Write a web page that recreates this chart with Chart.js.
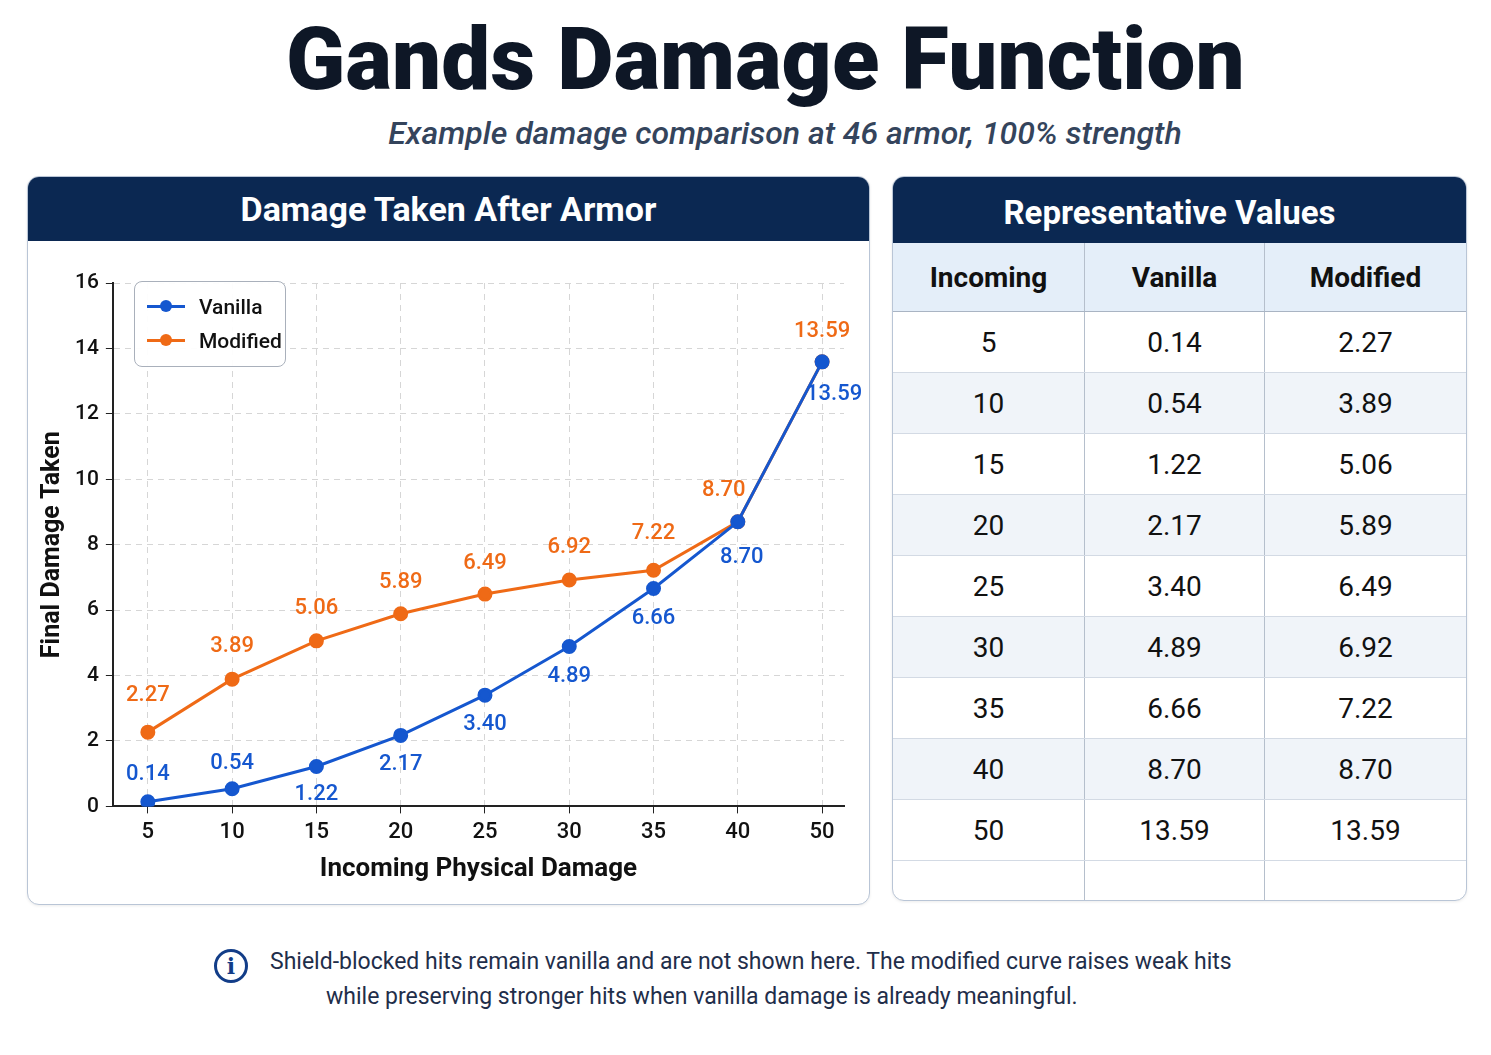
<!DOCTYPE html>
<html>
<head>
<meta charset="utf-8">
<script src="https://cdn.jsdelivr.net/npm/chart.js@4.4.1/dist/chart.umd.min.js"></script>
<style>
  html, body { margin: 0; padding: 0; background: #fff; }
  body { width: 1491px; height: 1055px; position: relative; font-family: Roboto, 'Noto Sans', sans-serif; overflow: hidden; }
  h1 { position: absolute; left: 20px; width: 1491px; top: 8px; margin: 0; text-align: center; font-size: 87px; font-weight: 900; color: #0e1726; letter-spacing: 0.2px; }
  .sub { position: absolute; left: 78px; width: 1414px; top: 114px; text-align: center; font-size: 32px; font-style: italic; font-weight: 500; color: #34445c; }
  .card { position: absolute; background: #fff; border: 1.5px solid #b9c5d6; border-radius: 12px; overflow: hidden; box-shadow: 0 1px 3px rgba(0,0,0,0.08); }
  .card .head { background: #0b2852; color: #fff; font-weight: 700; text-align: center; }
  #left { left: 27px; top: 176px; width: 841px; height: 727px; }
  #left .head { height: 64px; line-height: 64px; font-size: 34px; }
  #right { left: 892px; top: 176px; width: 573px; height: 723px; }
  #right .head { height: 66px; line-height: 72px; font-size: 33px; padding-right: 20px; }
  .wrap { position: absolute; left: 2px; top: 66px; width: 836px; height: 656px; }
  .legend { position: absolute; left: 104px; top: 38px; width: 150px; height: 84px; border: 1.5px solid #a9b0bb; border-radius: 8px; background: rgba(255,255,255,0.95); font-size: 21px; font-weight: 500; color: #111; }
  .legend div { position: absolute; left: 12px; height: 26px; line-height: 26px; }
  .legend i { display: inline-block; position: relative; width: 38px; height: 3px; vertical-align: middle; margin-right: 14px; top: -2px; }
  .legend i:after { content: ''; position: absolute; left: 13px; top: -5px; width: 12px; height: 12px; border-radius: 50%; background: inherit; }
  table { border-collapse: collapse; width: 100%; font-size: 28px; color: #111; }
  th, td { padding: 0; }
  th { background: #e4eef9; height: 68px; font-weight: 700; border-right: 1px solid #b5bfcc; border-bottom: 1.5px solid #a9b4c3; }
  td { height: 60px; text-align: center; border-right: 1px solid #b5bfcc; border-bottom: 1px solid #d3dae4; }
  th:last-child, td:last-child { border-right: none; }
  tr.alt td { background: #f0f4f9; }
  tr.pad td { height: 60px; border-bottom: none; }
  .note { position: absolute; left: 214px; top: 944px; width: 1060px; font-size: 23px; color: #1f2e4a; line-height: 35px; }
  .note .ic { position: absolute; left: 0; top: 5px; width: 34px; height: 34px; box-sizing: border-box; border: 3px solid #123d88; border-radius: 50%; color: #123d88; font-family: 'DejaVu Serif', serif; font-weight: 700; font-size: 22px; line-height: 29px; text-align: center; }
  .note .l1 { position: absolute; left: 56px; top: 0; white-space: nowrap; }
  .note .l2 { position: absolute; left: 112px; top: 35px; white-space: nowrap; }
</style>
</head>
<body>
<h1>Gands Damage Function</h1>
<div class="sub">Example damage comparison at 46 armor, 100% strength</div>

<div class="card" id="left">
  <div class="head">Damage Taken After Armor</div>
  <div class="wrap">
    <canvas id="chart" width="836" height="656"></canvas>
    <div class="legend">
      <div style="top:12px"><i style="background:#1557cf"></i>Vanilla</div>
      <div style="top:46px"><i style="background:#ef6a16"></i>Modified</div>
    </div>
  </div>
</div>

<div class="card" id="right">
  <div class="head">Representative Values</div>
  <table id="tbl"></table>
</div>

<div class="note">
  <div class="ic">i</div>
  <div class="l1">Shield-blocked hits remain vanilla and are not shown here. The modified curve raises weak hits</div>
  <div class="l2">while preserving stronger hits when vanilla damage is already meaningful.</div>
</div>

<script>
const incoming = ['5', '10', '15', '20', '25', '30', '35', '40', '50'];
const vanilla = [0.14, 0.54, 1.22, 2.17, 3.40, 4.89, 6.66, 8.70, 13.59];
const modified = [2.27, 3.89, 5.06, 5.89, 6.49, 6.92, 7.22, 8.70, 13.59];
const yTicks = [0, 2, 4, 6, 8, 10, 12, 14, 16];

const BLUE = '#1557cf';
const ORANGE = '#ef6a16';

// where each value label sits relative to its point
const vanillaPlace = [[0, -27], [0, -25], [0, 28], [0, 29], [0, 29], [0, 30], [0, 30], [4, 36], [12, 33]];
const modifiedPlace = [[0, -37], [0, -33], [0, -32], [0, -31], [0, -31], [0, -33], [0, -37], [-14, -31], [0, -30]];

// table
const tbl = document.getElementById('tbl');
let html = '<tr><th style="width:191px">Incoming</th><th style="width:179px">Vanilla</th><th>Modified</th></tr>';
incoming.forEach((inc, i) => {
  html += '<tr class="' + (i % 2 ? 'alt' : '') + '"><td>' + inc + '</td><td>' + vanilla[i].toFixed(2) +
    '</td><td>' + modified[i].toFixed(2) + '</td></tr>';
});
html += '<tr class="pad"><td></td><td></td><td></td></tr>';
tbl.innerHTML = html;

const valueLabels = {
  id: 'valueLabels',
  afterDatasetsDraw(chart) {
    const ctx = chart.ctx;
    ctx.save();
    ctx.font = '500 22px Roboto';
    ctx.textAlign = 'center';
    ctx.textBaseline = 'middle';
    chart.data.datasets.forEach((ds, di) => {
      const meta = chart.getDatasetMeta(di);
      const place = di === 0 ? vanillaPlace : modifiedPlace;
      ctx.fillStyle = ds.borderColor;
      meta.data.forEach((pt, i) => {
        ctx.fillText(ds.data[i].toFixed(2), pt.x + place[i][0], pt.y + place[i][1]);
      });
    });
    ctx.restore();
  }
};

new Chart(document.getElementById('chart'), {
  type: 'line',
  data: {
    labels: incoming,
    datasets: [
      { label: 'Vanilla', data: vanilla, borderColor: BLUE, backgroundColor: BLUE, borderWidth: 3, pointRadius: 6, pointHoverRadius: 6, tension: 0 },
      { label: 'Modified', data: modified, borderColor: ORANGE, backgroundColor: ORANGE, borderWidth: 3, pointRadius: 6, pointHoverRadius: 6, tension: 0 }
    ]
  },
  options: {
    responsive: false,
    animation: false,
    devicePixelRatio: 1,
    layout: { padding: { top: 40, right: 22, bottom: 10, left: 4 } },
    plugins: { legend: { display: false }, tooltip: { enabled: false } },
    scales: {
      x: {
        offset: false,
        // uneven side gaps: a bit more room before the first category than after the last
        afterBuildTicks(scale) {
          scale._startValue = -0.415;
          scale._valueRange = incoming.length - 1 + 0.415 + 0.26;
        },
        grid: { color: '#d6d6d6', tickColor: '#222', tickLength: 7, lineWidth: 1 },
        border: { display: true, color: '#222', width: 2, dash: [6, 5] },
        ticks: { color: '#111', font: { family: 'Roboto', size: 22, weight: '500' }, padding: 6 },
        title: { display: true, text: 'Incoming Physical Damage', color: '#111', font: { family: 'Roboto', size: 26, weight: '700' }, padding: { top: 2 } }
      },
      y: {
        min: 0,
        max: 16,
        afterBuildTicks(scale) { scale.ticks = yTicks.map(v => ({ value: v })); },
        grid: { color: '#d6d6d6', tickColor: '#222', tickLength: 7, lineWidth: 1 },
        border: { display: true, color: '#222', width: 2, dash: [6, 5] },
        ticks: { color: '#111', font: { family: 'Roboto', size: 21, weight: '500' }, padding: 7 },
        title: { display: true, text: 'Final Damage Taken', color: '#111', font: { family: 'Roboto', size: 25, weight: '700' }, padding: { bottom: 0 } }
      }
    }
  },
  plugins: [valueLabels]
});
</script>
</body>
</html>
